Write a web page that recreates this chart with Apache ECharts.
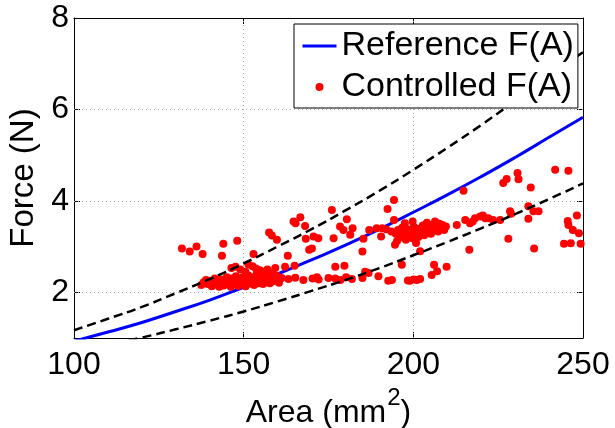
<!DOCTYPE html>
<html>
<head>
<meta charset="utf-8">
<script src="https://cdn.jsdelivr.net/npm/echarts@6/dist/echarts.min.js"></script>
<style>
  html, body { margin: 0; padding: 0; background: #fff; }
  #chart { width: 615px; height: 428px; }
</style>
</head>
<body>
<div id="chart"></div>
<script>
// Area grid (mm^2) on which the reference curve and its bounds are sampled
const areaGrid = [100, 110, 120, 130, 140, 150, 160, 170, 180, 190, 200, 210, 220, 230, 240, 250];
// Reference force curve F(A), in N
const referenceForce = [0.93, 1.13, 1.34, 1.58, 1.83, 2.11, 2.40, 2.71, 3.03, 3.38, 3.75, 4.13, 4.53, 4.95, 5.39, 5.83];
// Upper and lower tolerance bounds, in N
const upperBound = [1.17, 1.42, 1.68, 1.98, 2.29, 2.63, 3.00, 3.38, 3.79, 4.22, 4.68, 5.16, 5.66, 6.19, 6.74, 7.25];
const lowerBound = [0.70, 0.85, 1.01, 1.19, 1.38, 1.58, 1.80, 2.03, 2.27, 2.53, 2.81, 3.10, 3.40, 3.71, 4.04, 4.38];

// Measured (area, force) pairs under control
const controlledPoints = [
  [131.8, 2.96], [134.1, 2.89], [136.1, 3.00], [137.9, 2.84], [144.0, 3.06], [143.6, 2.80], [148.1, 3.13], [152.9, 2.84],
  [137.5, 2.16], [138.2, 2.22], [138.9, 2.27], [139.4, 2.18], [140.1, 2.25], [140.6, 2.13], [141.0, 2.21], [141.5, 2.30],
  [141.9, 2.17], [142.4, 2.24], [142.8, 2.12], [143.3, 2.28], [143.7, 2.20], [144.1, 2.15], [144.6, 2.26], [145.0, 2.33],
  [145.4, 2.19], [145.8, 2.23], [146.2, 2.12], [146.5, 2.30], [146.9, 2.17], [147.3, 2.25], [147.7, 2.35], [148.0, 2.20],
  [148.4, 2.14], [148.8, 2.28], [149.1, 2.22], [149.5, 2.32], [149.9, 2.18], [150.3, 2.26], [150.6, 2.13], [151.0, 2.21],
  [151.3, 2.37], [151.7, 2.29], [152.0, 2.19], [152.4, 2.25], [152.8, 2.33], [153.1, 2.16], [153.5, 2.23], [153.9, 2.41],
  [154.2, 2.28], [154.6, 2.20], [155.0, 2.34], [155.3, 2.25], [155.7, 2.18], [156.1, 2.30], [156.5, 2.22], [156.9, 2.38],
  [157.3, 2.27], [157.7, 2.20], [158.1, 2.33], [158.6, 2.24], [159.2, 2.29], [159.8, 2.36], [160.4, 2.21],
  [146.4, 2.53], [147.6, 2.56], [149.0, 2.50], [150.5, 2.45], [151.4, 2.61], [152.6, 2.57], [153.6, 2.52], [154.8, 2.48],
  [155.8, 2.44], [157.0, 2.50], [158.4, 2.42],
  [157.5, 3.31], [158.3, 3.24], [159.8, 3.15],
  [160.3, 2.26], [161.2, 2.31], [163.2, 2.29], [165.2, 2.32], [167.6, 2.27], [170.3, 2.30], [171.6, 2.33], [172.1, 2.28],
  [175.0, 2.31], [177.0, 2.30], [178.5, 2.27], [180.2, 2.33], [181.9, 2.29],
  [159.3, 2.53], [162.2, 2.56], [165.0, 2.58], [163.0, 2.80], [177.0, 2.56], [179.7, 2.58],
  [164.7, 3.55], [165.3, 3.51], [166.7, 3.64], [168.1, 3.45], [168.3, 3.17], [170.6, 3.22], [172.0, 3.18], [176.0, 3.80],
  [176.5, 3.18], [178.4, 3.44], [179.4, 3.36], [180.4, 3.60], [182.1, 3.40], [181.4, 3.26], [169.3, 2.93], [170.1, 2.96],
  [185.0, 2.89], [185.3, 3.17], [187.0, 3.36], [189.2, 3.40], [190.5, 3.22], [192.0, 3.38], [190.8, 3.40],
  [185.8, 2.45], [185.0, 2.31], [186.8, 2.42], [189.7, 2.35],
  [192.4, 3.82], [194.3, 4.02], [194.3, 3.58], [194.6, 3.04], [196.6, 2.60], [202.0, 2.90], [216.5, 2.93], [206.1, 2.60],
  [209.8, 2.56], [207.0, 2.46], [205.4, 2.38], [193.7, 2.27], [192.6, 2.25], [199.0, 2.25], [201.0, 2.27], [202.0, 2.29],
  [198.4, 2.26], [200.1, 2.28], [214.8, 4.22],
  [193.5, 3.33], [194.8, 3.28], [195.5, 3.36], [196.0, 3.20], [196.7, 3.41], [197.2, 3.30], [197.8, 3.15], [198.3, 3.38],
  [198.8, 3.24], [199.3, 3.32], [199.7, 3.18], [200.2, 3.43], [200.6, 3.27], [201.0, 3.35], [201.5, 3.21], [201.9, 3.39],
  [202.3, 3.30], [202.8, 3.46], [203.2, 3.25], [203.6, 3.36], [204.0, 3.52], [204.4, 3.31], [204.8, 3.42], [205.2, 3.28],
  [205.6, 3.48], [206.0, 3.37], [206.4, 3.55], [206.8, 3.44], [207.3, 3.33], [207.7, 3.50], [208.1, 3.40], [208.6, 3.47],
  [209.1, 3.36], [209.6, 3.44], [197.5, 3.51], [199.8, 3.55], [195.2, 3.12], [200.8, 3.08],
  [212.8, 3.47], [215.3, 3.58], [216.7, 3.51], [218.2, 3.62], [219.7, 3.66], [221.2, 3.62], [220.5, 3.68], [222.1, 3.62],
  [225.6, 3.58], [230.7, 4.61], [231.0, 4.47], [227.5, 4.48], [226.5, 4.39], [234.6, 4.29], [241.8, 4.68], [245.7, 4.66],
  [228.5, 3.77], [228.8, 3.72], [233.9, 3.88], [235.4, 3.77], [236.9, 3.77], [233.9, 3.61], [228.0, 3.17], [235.6, 2.96],
  [245.5, 3.56], [245.7, 3.47], [247.0, 3.36], [248.2, 3.68], [248.8, 3.29], [244.4, 3.06], [246.4, 3.07], [249.3, 3.06],
  [223.5, 3.58], [217.5, 3.55]
];

// Tick values shown on each axis
const xTicks = [100, 150, 200, 250];
const yTicks = [2, 4, 6, 8];
// Interior grid lines
const xGridLines = [150, 200];
const yGridLines = [2, 4, 6];

const FONT = "'Liberation Sans', Arial, Helvetica, sans-serif";
const pair = (xs, ys) => xs.map((x, i) => [x, ys[i]]);

const chart = echarts.init(document.getElementById('chart'), null, { renderer: 'canvas' });

const gridLineStyle = { color: '#a8a8a8', width: 1, type: [1, 3] };

const baseX = {
  type: 'value', min: 100, max: 250, interval: 50,
  axisLine: { show: true, onZero: false, lineStyle: { color: '#000', width: 1 } },
  axisTick: { show: true, inside: true, length: 6, lineStyle: { color: '#000', width: 1 } },
  splitLine: { show: false }
};
const baseY = {
  type: 'value', min: 1, max: 8,
  axisLine: { show: true, onZero: false, lineStyle: { color: '#000', width: 1 } },
  axisTick: { show: true, inside: true, length: 6, customValues: yTicks, lineStyle: { color: '#000', width: 1 } },
  splitLine: { show: false }
};

chart.setOption({
  animation: false,
  backgroundColor: '#fff',
  grid: { left: 74, right: 32, top: 18, bottom: 90, containLabel: false, outerBoundsMode: 'none' },
  legend: {
    orient: 'vertical',
    left: 294, top: 24,
    z: 20,
    padding: [5, 4, 4, 7],
    itemGap: 7,
    itemWidth: 34,
    itemHeight: 8,
    backgroundColor: '#fff',
    borderColor: '#000',
    borderWidth: 1,
    borderRadius: 0,
    textStyle: { fontFamily: FONT, fontSize: 34, color: '#000', padding: [0, 0, 0, 0] },
    data: [
      { name: 'Reference F(A)', itemStyle: { color: 'rgba(0,0,0,0)', borderColor: 'rgba(0,0,0,0)', borderWidth: 0 }, lineStyle: { color: '#0000ff', width: 3 } },
      { name: 'Controlled F(A)' }
    ]
  },
  xAxis: [
    Object.assign({}, baseX, {
      position: 'bottom',
      name: 'Area (mm{sup|2})',
      nameLocation: 'middle',
      nameGap: 42,
      nameTextStyle: {
        fontFamily: FONT, fontSize: 32, color: '#000',
        rich: { sup: { fontFamily: FONT, fontSize: 24, color: '#000', verticalAlign: 'bottom', padding: [0, 0, 30, 1] } }
      },
      axisLabel: { show: true, margin: 11, fontFamily: FONT, fontSize: 32, color: '#000', customValues: xTicks }
    }),
    Object.assign({}, baseX, { position: 'top', axisLabel: { show: false } })
  ],
  yAxis: [
    Object.assign({}, baseY, {
      position: 'left',
      name: 'Force (N)',
      nameLocation: 'middle',
      nameGap: 32,
      nameTextStyle: { fontFamily: FONT, fontSize: 33, color: '#000' },
      axisLabel: { show: true, margin: 5, fontFamily: FONT, fontSize: 32, color: '#000', customValues: yTicks }
    }),
    Object.assign({}, baseY, { position: 'right', axisLabel: { show: false } })
  ],
  series: [
    {
      name: 'Reference F(A)',
      type: 'line',
      data: pair(areaGrid, referenceForce),
      smooth: true,
      symbol: 'none',
      clip: true,
      lineStyle: { color: '#0000ff', width: 3 },
      itemStyle: { color: '#0000ff' },
      z: 2,
      markLine: {
        silent: true,
        symbol: 'none',
        label: { show: false },
        lineStyle: gridLineStyle,
        z: 1,
        data: xGridLines.map(v => ({ xAxis: v })).concat(yGridLines.map(v => ({ yAxis: v })))
      }
    },
    {
      name: 'Controlled F(A)',
      type: 'scatter',
      data: controlledPoints,
      symbol: 'circle',
      symbolSize: 8,
      itemStyle: { color: '#ff0000', opacity: 1 },
      z: 3
    },
    {
      name: 'upper',
      type: 'line',
      data: pair(areaGrid, upperBound),
      smooth: true,
      symbol: 'none',
      clip: true,
      lineStyle: { color: '#000', width: 2.5, type: [9, 5] },
      z: 4
    },
    {
      name: 'lower',
      type: 'line',
      data: pair(areaGrid, lowerBound),
      smooth: true,
      symbol: 'none',
      clip: true,
      lineStyle: { color: '#000', width: 2.5, type: [9, 5] },
      z: 4
    }
  ]
});
</script>
</body>
</html>
